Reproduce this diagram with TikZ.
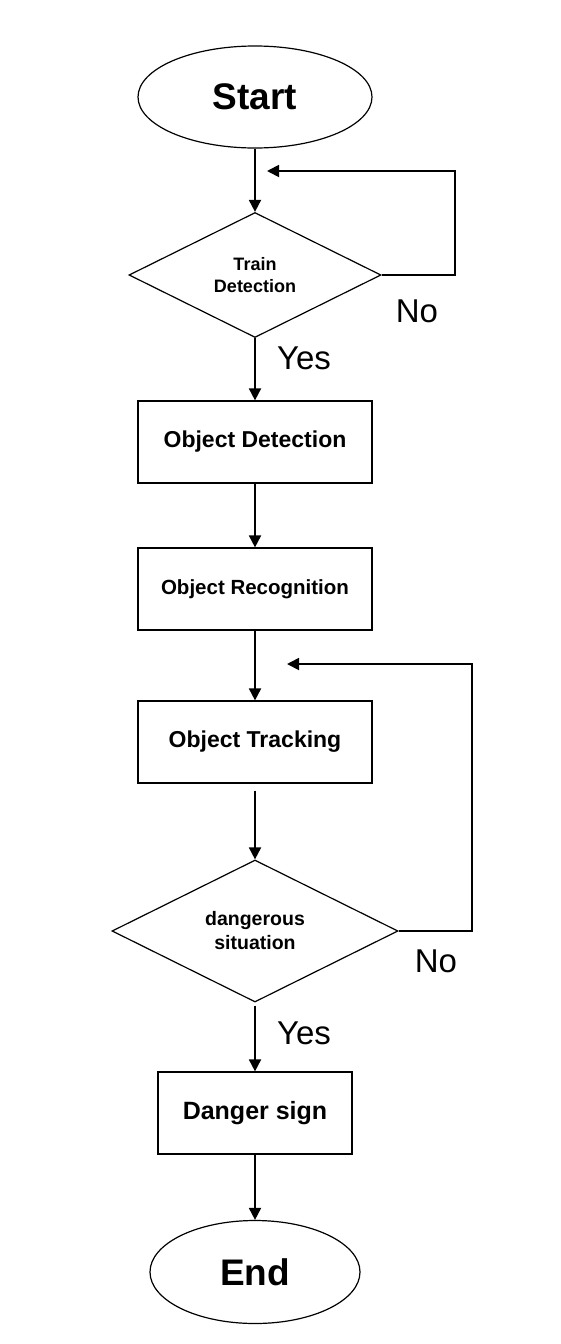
\documentclass[tikz,border=0pt]{standalone}
\usepackage{fontspec}
\setmainfont{Liberation Sans}
\usetikzlibrary{shapes.geometric,arrows.meta}
\tikzset{
  term/.style={draw, line width=1.2pt, ellipse, inner sep=0pt, font=\bfseries\fontsize{37}{40}\selectfont},
  procbox/.style={draw, line width=1.2pt, rectangle, inner sep=0pt, font=\bfseries\fontsize{23}{26}\selectfont},
  decision/.style={draw, line width=1.2pt, diamond, inner sep=0pt, align=center},
  arr/.style={line width=1.8pt, -{Triangle[length=12pt,width=12pt]}},
  lbl/.style={font=\fontsize{33}{36}\selectfont}
}
\begin{document}
\begin{tikzpicture}[x=1pt,y=-1pt]
\useasboundingbox (0,0) rectangle (560,1344);
\node[term, minimum width=234, minimum height=102] (start) at (255,97) {Start};
\node[decision, minimum width=252, minimum height=125, font=\bfseries\fontsize{18}{22}\selectfont] (train) at (255,275) {Train\\Detection};
\node[procbox, minimum width=234, minimum height=82] (det) at (255,442) {Object Detection};
\node[procbox, minimum width=234, minimum height=82, font=\bfseries\fontsize{20.5}{24}\selectfont] (rec) at (255,589) {Object Recognition};
\node[procbox, minimum width=234, minimum height=82] (trk) at (255,742) {Object Tracking};
\node[decision, minimum width=286, minimum height=142, font=\bfseries\fontsize{19.5}{24}\selectfont] (dang) at (255,931) {dangerous\\situation};
\node[procbox, minimum width=194, minimum height=82, font=\bfseries\fontsize{25}{28}\selectfont] (sign) at (255,1113) {Danger sign};
\node[term, minimum width=210, minimum height=103] (end) at (255,1272) {End};

\coordinate (c1) at (455,171);
\coordinate (t1) at (267,171);
\coordinate (c2) at (472,664);
\coordinate (t2) at (287,664);

\draw[arr] (start) -- (train);
\draw[arr] (train.east) -| (c1) -- (t1);
\draw[arr] (train) -- (det);
\draw[arr] (det) -- (rec);
\draw[arr] (rec) -- (trk);
\draw[arr, shorten <=7pt] (trk) -- (dang);
\draw[arr] (dang.east) -| (c2) -- (t2);
\draw[arr, shorten <=3pt] (dang) -- (sign);
\draw[arr] (sign) -- (end);

\node[lbl] (no1) at (417,311) {No};
\node[lbl] (yes1) at (304,358) {Yes};
\node[lbl] (no2) at (436,961) {No};
\node[lbl] (yes2) at (304,1033) {Yes};
\end{tikzpicture}
\end{document}
